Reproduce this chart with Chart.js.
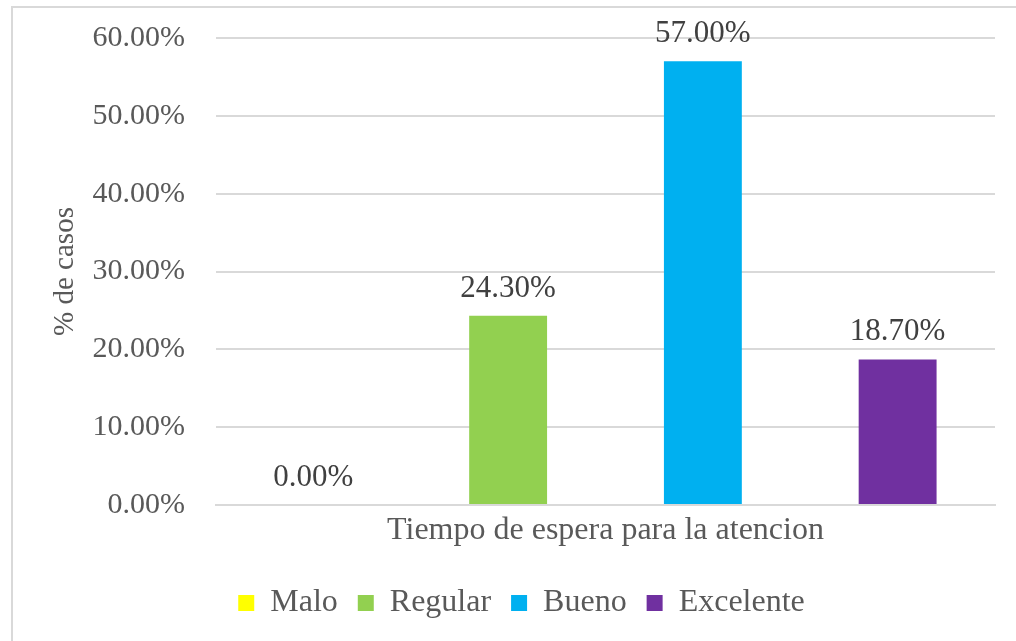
<!DOCTYPE html>
<html>
<head>
<meta charset="utf-8">
<script src="https://cdn.jsdelivr.net/npm/chart.js@4.4.1/dist/chart.umd.min.js"></script>
<style>
  html, body { margin: 0; padding: 0; background: #fff; }
  #wrap { position: relative; width: 1016px; height: 641px; overflow: hidden; }
  #frame { position: absolute; left: 11px; top: 6px; width: 1100px; height: 700px;
           border: 2px solid #d9d9d9; pointer-events: none; }
</style>
</head>
<body>
<div id="wrap">
  <canvas id="chart" width="1016" height="641"></canvas>
  <div id="frame"></div>
</div>
<script>
// data
const categories = ['Tiempo de espera para la atencion'];
const seriesNames = ['Malo', 'Regular', 'Bueno', 'Excelente'];
const seriesValues = [0.00, 24.30, 57.00, 18.70];
const seriesColors = ['#FFFF00', '#92D050', '#00B0F0', '#7030A0'];
const yTicks = [0, 10, 20, 30, 40, 50, 60];

const FONT = "'Liberation Serif', 'Times New Roman', serif";

// labels above each bar
const barLabels = {
    id: 'barLabels',
    afterDatasetsDraw(chart) {
        const ctx = chart.ctx;
        ctx.save();
        ctx.font = '31px ' + FONT;
        ctx.fillStyle = '#404040';
        ctx.textAlign = 'center';
        ctx.textBaseline = 'bottom';
        chart.data.datasets.forEach((ds, i) => {
            const meta = chart.getDatasetMeta(i);
            meta.data.forEach((bar, j) => {
                ctx.fillText(ds.data[j].toFixed(2) + '%', bar.x, bar.y - 12);
            });
        });
        ctx.restore();
    }
};

const ctx = document.getElementById('chart').getContext('2d');
const chart = new Chart(ctx, {
    type: 'bar',
    data: {
        labels: categories,
        datasets: seriesNames.map((name, i) => ({
            label: name,
            data: [seriesValues[i]],
            backgroundColor: seriesColors[i],
            borderWidth: 0,
            categoryPercentage: 1.0,
            barPercentage: 0.4
        }))
    },
    options: {
        responsive: false,
        animation: false,
        devicePixelRatio: 1,
        layout: { padding: { left: 48, right: 21, top: 38, bottom: 12 } },
        plugins: {
            tooltip: { enabled: false },
            legend: {
                position: 'bottom',
                labels: {
                    boxWidth: 16,
                    boxHeight: 16,
                    padding: 20,
                    color: '#595959',
                    font: { family: FONT, size: 32 }
                }
            }
        },
        scales: {
            x: {
                grid: { display: false, drawTicks: false },
                border: { display: true, color: '#d9d9d9', width: 2 },
                ticks: { color: '#595959', padding: 6, font: { family: FONT, size: 32 } },
                afterFit(scale) {
                    scale.height = 62;
                    scale.paddingLeft = 0;
                    scale.paddingRight = 0;
                }
            },
            y: {
                min: 0,
                max: 60,
                afterBuildTicks(scale) { scale.ticks = yTicks.map(v => ({ value: v })); },
                grid: { color: '#d9d9d9', lineWidth: 2, drawTicks: false },
                border: { display: false },
                ticks: {
                    color: '#595959',
                    padding: 31,
                    font: { family: FONT, size: 30 },
                    callback: v => v.toFixed(2) + '%'
                },
                title: {
                    display: true,
                    text: '% de casos',
                    color: '#595959',
                    font: { family: FONT, size: 29 },
                    padding: { top: 0, bottom: 0 }
                },
                afterFit(scale) {
                    scale.width = 168;
                    scale.paddingTop = 0;
                    scale.paddingBottom = 0;
                }
            }
        }
    },
    plugins: [barLabels]
});
</script>
</body>
</html>
